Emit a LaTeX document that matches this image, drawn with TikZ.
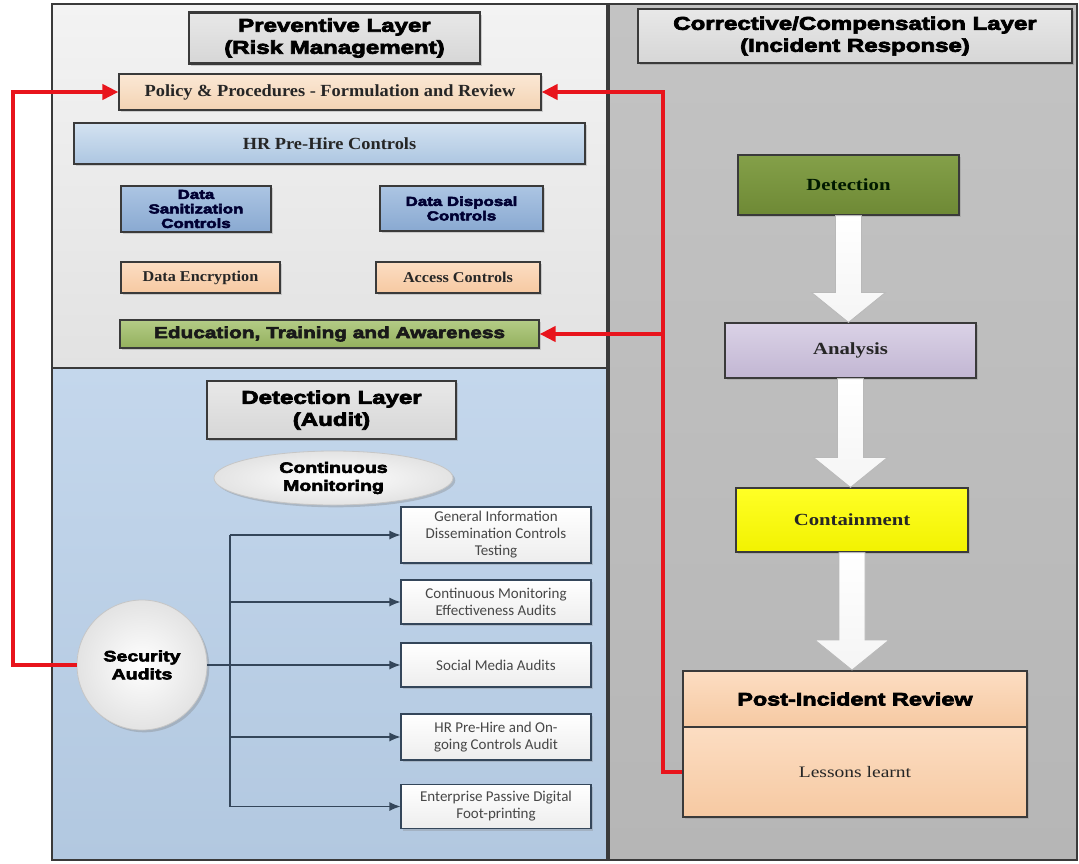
\documentclass[tikz,border=0pt]{standalone}
\usepackage{fontspec}
\setmainfont{Liberation Serif}
\newfontfamily\heavyfont{Liberation Sans Bold}[FakeStretch=1.3,FakeBold=4]
\newfontfamily\timesfont{Liberation Serif}[FakeStretch=1.08]
\newfontfamily\widefont{Liberation Serif}[FakeStretch=1.22]
\newfontfamily\calfont{Carlito}
\usetikzlibrary{arrows.meta,shadows,calc,shapes.geometric}

\definecolor{prevtop}{HTML}{F3F3F3}
\definecolor{prevbot}{HTML}{E2E2E2}
\definecolor{audtop}{HTML}{C4D7EC}
\definecolor{audbot}{HTML}{B2C8E0}
\definecolor{corrtop}{HTML}{C3C3C3}
\definecolor{corrbot}{HTML}{B6B6B6}
\definecolor{framecol}{HTML}{3A3A3A}
\definecolor{redcol}{HTML}{E8141C}
\definecolor{peachtop}{HTML}{FBE8D5}
\definecolor{peachbot}{HTML}{F3D3B3}
\definecolor{salmtop}{HTML}{FCDDC2}
\definecolor{salmbot}{HTML}{F6C9A2}
\definecolor{bluetop}{HTML}{D3E2F1}
\definecolor{bluebot}{HTML}{ADC6E1}
\definecolor{deeptop}{HTML}{ACC5E3}
\definecolor{deepbot}{HTML}{89A9D1}
\definecolor{greentop}{HTML}{B4CC86}
\definecolor{greenbot}{HTML}{93B05D}
\definecolor{olivetop}{HTML}{84A049}
\definecolor{olivebot}{HTML}{6E8935}
\definecolor{lilactop}{HTML}{DAD2E6}
\definecolor{lilacbot}{HTML}{C2B6D3}
\definecolor{audline}{HTML}{34465A}

\tikzset{
  titlebox/.style={draw=framecol, line width=2.5pt, top color=gray!18, bottom color=gray!32,
    drop shadow={opacity=0.35}, inner sep=0pt, align=center,
    font=\heavyfont\fontsize{18.5pt}{22pt}\selectfont},
  plainbox/.style={draw=framecol, line width=1.2pt, inner sep=0pt, align=center,
    drop shadow={opacity=0.3, shadow xshift=2pt, shadow yshift=-2pt}},
  serifbox/.style={plainbox, font=\timesfont\bfseries\fontsize{17pt}{20pt}\selectfont, text=black!85},
  heavybox/.style={plainbox, font=\heavyfont\fontsize{13pt}{14.5pt}\selectfont, text=blue!20!black},
  stagebox/.style={plainbox, font=\widefont\bfseries\fontsize{17pt}{20pt}\selectfont, text=black!85},
  auditbox/.style={draw=audline, line width=1.1pt, inner sep=0pt, align=center,
    top color=white, bottom color=gray!14, text=black!72,
    drop shadow={opacity=0.3, shadow xshift=2pt, shadow yshift=-2pt},
    minimum width=190pt, font=\calfont\fontsize{15pt}{17pt}\selectfont},
  bubble/.style={draw=gray!45, line width=0.8pt, inner sep=0pt, align=center,
    inner color=white, outer color=gray!22, drop shadow={opacity=0.35},
    font=\heavyfont\fontsize{15pt}{18pt}\selectfont},
  redline/.style={draw=redcol, line width=4pt},
  audarrow/.style={draw=audline, line width=1.1pt},
  flowstyle/.style={draw=gray!55, line width=0.8pt, top color=white, bottom color=gray!8}
}

\newcommand{\flowarrow}[2]{%
  \draw[flowstyle] let \p1=(#1.south), \p2=(#2.north) in
    (\x1-13,\y1) -- (\x1-13,\y2+30) -- (\x1-37,\y2+30) -- (\x1,\y2)
    -- (\x1+37,\y2+30) -- (\x1+13,\y2+30) -- (\x1+13,\y1) -- cycle;}

\begin{document}
\begin{tikzpicture}[x=1pt,y=-1pt]
\useasboundingbox (0,0) rectangle (1079,863);

\fill[top color=prevtop,bottom color=prevbot] (52,4) rectangle (608,368);
\fill[top color=audtop,bottom color=audbot] (52,368) rectangle (608,860);
\fill[top color=corrtop,bottom color=corrbot] (608,4) rectangle (1077,860);
\draw[framecol,line width=2pt] (52,4) rectangle (1077,860);
\draw[framecol,line width=1.5pt] (52,368) -- (608,368);
\draw[framecol,line width=4pt] (608,4) -- (608,860);

\node[titlebox, minimum width=291pt, minimum height=51pt] (prevtitle) at (334.5,38) {Preventive Layer\\(Risk Management)};
\node[titlebox, minimum width=434pt, minimum height=54pt] (corrtitle) at (855,36) {Corrective/Compensation Layer\\(Incident Response)};
\node[titlebox, minimum width=249pt, minimum height=58pt] (dettitle) at (331.5,410) {Detection Layer\\(Audit)};

\node[serifbox, top color=peachtop, bottom color=peachbot, minimum width=422pt, minimum height=36pt] (pol) at (330,92) {Policy \& Procedures - Formulation and Review};
\node[serifbox, top color=bluetop, bottom color=bluebot, minimum width=511pt, minimum height=41pt] (hr) at (329.5,143.5) {HR Pre-Hire Controls};
\node[heavybox, top color=deeptop, bottom color=deepbot, minimum width=150pt, minimum height=46pt] (sanit) at (196,209) {Data\\Sanitization\\Controls};
\node[heavybox, top color=deeptop, bottom color=deepbot, minimum width=163pt, minimum height=45pt] (dispos) at (461.5,208.5) {Data Disposal\\Controls};
\node[serifbox, font=\timesfont\bfseries\fontsize{15pt}{18pt}\selectfont, top color=salmtop, bottom color=salmbot, minimum width=159pt, minimum height=31pt] (encr) at (200.5,277.5) {Data Encryption};
\node[serifbox, font=\timesfont\bfseries\fontsize{15pt}{18pt}\selectfont, top color=salmtop, bottom color=salmbot, minimum width=164pt, minimum height=31pt] (acc) at (458,277.5) {Access Controls};
\node[heavybox, font=\heavyfont\fontsize{16pt}{18pt}\selectfont, text=black!90, top color=greentop, bottom color=greenbot, minimum width=419pt, minimum height=28pt] (edu) at (329.5,334) {Education, Training and Awareness};

\node[bubble, ellipse, minimum width=239pt, minimum height=54pt] (mon) at (333.5,478) {Continuous\\Monitoring};
\node[bubble, circle, minimum size=130pt] (sec) at (142,665) {Security\\Audits};

\node[auditbox, minimum height=56pt] (aud1) at (496,535) {General Information\\Dissemination Controls\\Testing};
\node[auditbox, minimum height=44pt] (aud2) at (496,602) {Continuous Monitoring\\Effectiveness Audits};
\node[auditbox, minimum height=44pt] (aud3) at (496,665) {Social Media Audits};
\node[auditbox, minimum height=46pt] (aud4) at (496,737) {HR Pre-Hire and On-\\going Controls Audit};
\node[auditbox, minimum height=44pt] (aud5) at (496,806.5) {Enterprise Passive Digital\\Foot-printing};

\node[stagebox, top color=olivetop, bottom color=olivebot, text=black!90!green, minimum width=221pt, minimum height=60pt] (det) at (848.5,185) {Detection};
\node[stagebox, top color=lilactop, bottom color=lilacbot, minimum width=251pt, minimum height=55pt] (ana) at (850.5,350.5) {Analysis};
\node[stagebox, top color=yellow!85, bottom color=yellow!95!black, minimum width=232pt, minimum height=64pt] (con) at (852,520) {Containment};
\node[plainbox, line width=2pt, top color=salmtop, bottom color=salmbot, minimum width=344pt, minimum height=56pt, font=\heavyfont\fontsize{18pt}{20pt}\selectfont] (pir) at (855,699) {Post-Incident Review};
\node[plainbox, line width=2pt, top color=salmtop, bottom color=salmbot, minimum width=344pt, minimum height=90pt, font=\fontsize{16pt}{18pt}\selectfont\widefont, text=black!85] (lsn) at (855,772) {Lessons learnt};

\flowarrow{det}{ana}
\flowarrow{ana}{con}
\flowarrow{con}{pir}

\coordinate (trunk) at (230,0);
\draw[audarrow] (trunk |- aud1.west) -- (trunk |- aud5.west);
\foreach \n in {1,2,4,5}
  \draw[audarrow,-{Latex[length=11pt,width=9pt]}] (trunk |- aud\n.west) -- (aud\n.west);
\draw[audarrow,-{Latex[length=11pt,width=9pt]}] (sec.east) -- (aud3.west);

\coordinate (lft) at (13,0);
\coordinate (rgt) at (663,0);
\draw[redline,-{Triangle[length=16pt,width=15pt]}] (sec.west) -- (sec.west -| lft) -- (lft |- pol.west) -- (pol.west);
\draw[redline,-{Triangle[length=16pt,width=15pt]}] (lsn.west) -- (lsn.west -| rgt) -- (rgt |- pol.east) -- (pol.east);
\draw[redline,-{Triangle[length=16pt,width=15pt]}] (rgt |- edu.east) -- (edu.east);
\end{tikzpicture}
\end{document}
